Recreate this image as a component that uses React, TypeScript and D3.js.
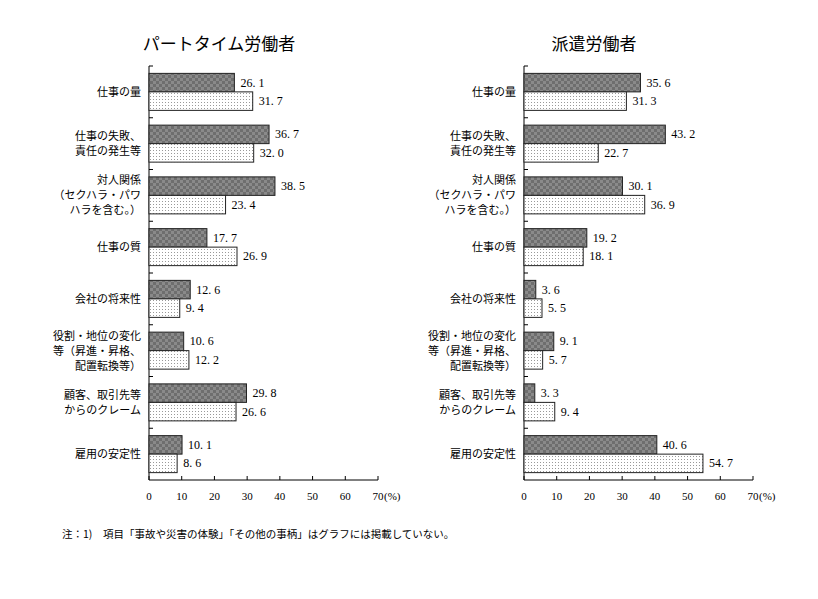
import React from "react";
import * as d3 from "d3";

const categories = [
  ["仕事の量"],
  ["仕事の失敗、", "責任の発生等"],
  ["対人関係", "（セクハラ・パワ", "ハラを含む。）"],
  ["仕事の質"],
  ["会社の将来性"],
  ["役割・地位の変化", "等（昇進・昇格、", "配置転換等）"],
  ["顧客、取引先等", "からのクレーム"],
  ["雇用の安定性"],
];
const partDark = [26.1, 36.7, 38.5, 17.7, 12.6, 10.6, 29.8, 10.1];
const partLight = [31.7, 32.0, 23.4, 26.9, 9.4, 12.2, 26.6, 8.6];
const hakenDark = [35.6, 43.2, 30.1, 19.2, 3.6, 9.1, 3.3, 40.6];
const hakenLight = [31.3, 22.7, 36.9, 18.1, 5.5, 5.7, 9.4, 54.7];
const ticks = [0, 10, 20, 30, 40, 50, 60, 70];

const jp = "'Noto Sans CJK JP', sans-serif";
const num = "'Liberation Serif', 'DejaVu Serif', serif";

function Panel({ x0, title, dark, light }: { x0: number; title: string; dark: number[]; light: number[] }) {
  const x = d3.scaleLinear().domain([0, 70]).range([x0, x0 + 229]);
  const y = d3.scaleBand().domain(categories.map((_, i) => String(i))).range([66, 480]);
  const bw = y.bandwidth();
  const fmt = (v: number) => v.toFixed(1).replace(".", ". ");
  return (
    <g>
      <text x={x(0) + 70} y={50} textAnchor="middle" fontFamily={jp} fontSize={17}>{title}</text>
      <line x1={x(0)} x2={x(0)} y1={66} y2={480} stroke="#000" />
      {categories.map((_, i) => (
        <line key={i} x1={x(0)} x2={x(0) + 4} y1={y(String(i))!} y2={y(String(i))!} stroke="#000" />
      ))}
      <line x1={x(0)} x2={x(70)} y1={480} y2={480} stroke="#000" />
      {ticks.map((t) => (
        <g key={t}>
          <line x1={x(t)} x2={x(t)} y1={480} y2={476} stroke="#000" />
          <text x={x(t)} y={500} textAnchor="middle" fontFamily={num} fontSize={11}>{t}</text>
        </g>
      ))}
      <text x={x(70) + 6} y={500} fontFamily={num} fontSize={11}>(%)</text>
      {categories.map((lines, i) => {
        const top = y(String(i))!;
        const cy = top + bw / 2;
        const bh = 18.5;
        return (
          <g key={i}>
            <rect x={x(0)} y={cy - bh} width={x(dark[i]) - x(0)} height={bh} fill="url(#check)" stroke="#222" strokeWidth={1} />
            <rect x={x(0)} y={cy} width={x(light[i]) - x(0)} height={bh} fill="url(#dots)" stroke="#222" strokeWidth={1} />
            <text x={x(dark[i]) + 6} y={cy - bh / 2 + 4} fontFamily={num} fontSize={12}>{fmt(dark[i])}</text>
            <text x={x(light[i]) + 6} y={cy + bh / 2 + 4} fontFamily={num} fontSize={12}>{fmt(light[i])}</text>
            {lines.map((l, j) => (
              <text key={j} x={x0 - 8} y={cy + 4 + (j - (lines.length - 1) / 2) * 15} textAnchor="end" fontFamily={jp} fontSize={11}>{l}</text>
            ))}
          </g>
        );
      })}
    </g>
  );
}

export default function App() {
  return (
    <svg width={818} height={599} style={{ position: "absolute", left: 0, top: 0, background: "#fff" }}>
      <defs>
        <pattern id="check" width={6} height={6} patternUnits="userSpaceOnUse">
          <rect width={6} height={6} fill="#6e6e6e" />
          <rect width={3} height={3} fill="#8a8a8a" />
          <rect x={3} y={3} width={3} height={3} fill="#8a8a8a" />
        </pattern>
        <pattern id="dots" width={3} height={3} patternUnits="userSpaceOnUse">
          <rect width={3} height={3} fill="#fff" />
          <rect width={1} height={1} fill="#999" />
        </pattern>
      </defs>
      <rect width={818} height={599} fill="#fff" />
      <Panel x0={149} title="パートタイム労働者" dark={partDark} light={partLight} />
      <Panel x0={524} title="派遣労働者" dark={hakenDark} light={hakenLight} />
      <text x={62} y={538} fontFamily={jp} fontSize={10.5}>注：1)　項目「事故や災害の体験」「その他の事柄」はグラフには掲載していない。</text>
    </svg>
  );
}
